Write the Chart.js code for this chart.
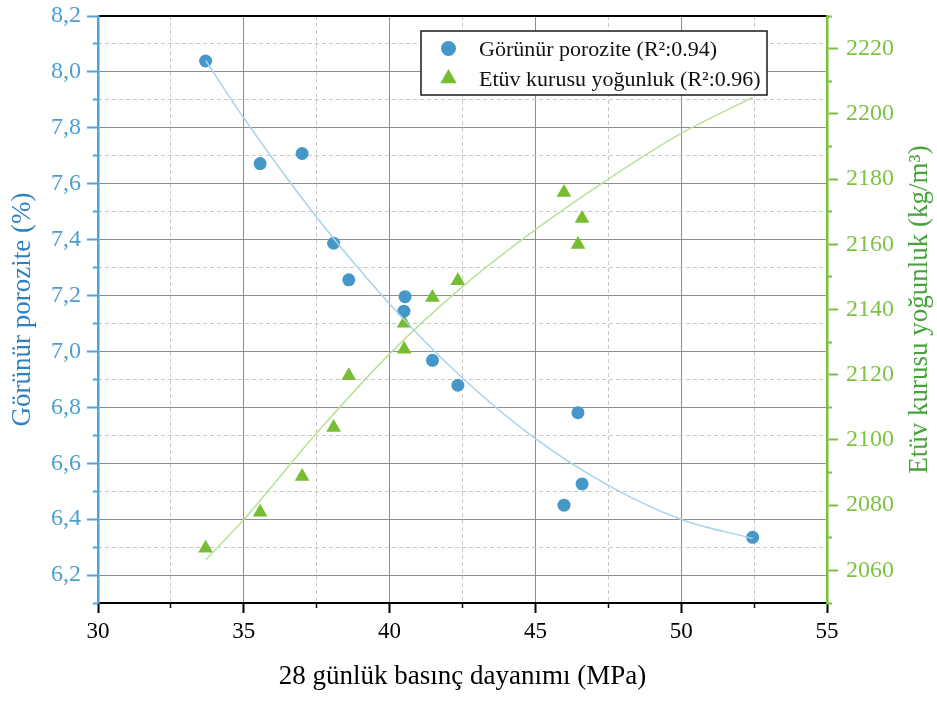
<!DOCTYPE html>
<html>
<head>
<meta charset="utf-8">
<script src="https://cdn.jsdelivr.net/npm/chart.js@4/dist/chart.umd.min.js"></script>
<style>
  html, body { margin: 0; padding: 0; background: #ffffff; }
  #wrap { width: 937px; height: 701px; position: relative; }
</style>
</head>
<body>
<div id="wrap"><canvas id="chart"></canvas></div>
<script>
// 28-day compressive strength (MPa) of each mix
const strength = [33.69, 35.56, 37.0, 38.08, 38.6, 40.53, 40.49, 41.47, 42.34, 46.46, 46.6, 45.98, 52.45];
// apparent porosity (%) of each mix
const porosity = [8.039, 7.672, 7.708, 7.387, 7.256, 7.196, 7.144, 6.968, 6.879, 6.781, 6.526, 6.45, 6.335];
// oven-dry density (kg/m3) with its strength values
const densityStrength = [33.69, 35.56, 37.0, 38.08, 38.6, 40.5, 40.5, 41.47, 42.34, 45.98, 46.6, 46.46];
const density = [2066.8, 2077.8, 2088.8, 2103.8, 2119.7, 2127.8, 2135.8, 2143.7, 2148.8, 2175.9, 2167.9, 2159.9];
// fitted trend curves
const fitStrength = [33.7, 35, 37.5, 40, 42.5, 45, 47.5, 50, 52.45];
const porosityFit = [8.04, 7.835, 7.48, 7.17, 6.905, 6.688, 6.521, 6.399, 6.331];
const densityFit = [2063.3, 2075.6, 2102.1, 2126.4, 2147.0, 2164.5, 2180.0, 2194.0, 2205.0];
// axis ticks
const xTicks = [30, 35, 40, 45, 50, 55];
const xMinorTicks = [32.5, 37.5, 42.5, 47.5, 52.5];
const porosityTicks = [6.2, 6.4, 6.6, 6.8, 7.0, 7.2, 7.4, 7.6, 7.8, 8.0, 8.2];
const porosityMinorTicks = [6.1, 6.3, 6.5, 6.7, 6.9, 7.1, 7.3, 7.5, 7.7, 7.9, 8.1];
const densityTicks = [2060, 2080, 2100, 2120, 2140, 2160, 2180, 2200, 2220];
const densityMinorTicks = [2050, 2070, 2090, 2110, 2130, 2150, 2170, 2190, 2210, 2230];
// labels
const porosityLabel = 'Görünür porozite (R²:0.94)';
const densityLabel = 'Etüv kurusu yoğunluk (R²:0.96)';
const xTitle = '28 günlük basınç dayanımı (MPa)';
const leftTitle = 'Görünür porozite (%)';
const rightTitle = 'Etüv kurusu yoğunluk (kg/m³)';

const serif = "'Liberation Serif', 'Times New Roman', serif";
const BLUE = '#4597c8', BLUE_FIT = '#a9d3ea', BLUE_AXIS = '#4ea2d5', BLUE_TEXT = '#4d9fd0', BLUE_TITLE = '#2e81bf';
const GREEN = '#76bd2f', GREEN_FIT = '#b9e197', GREEN_AXIS = '#7bc13c', GREEN_TEXT = '#7dc244', GREEN_TITLE = '#46a33b';
const GRID = '#8e8e8e', GRID_MINOR = '#c8c8c8', NONE = 'rgba(0,0,0,0)';

const pairs = (xs, ys) => xs.map((x, i) => ({ x: x, y: ys[i] }));
const fixTicks = list => scale => { scale.ticks = list.map(v => ({ value: v })); };
// fixed axis box sizes, without extra label overhang padding
const fixHeight = h => s => { s.height = h; s.paddingLeft = 0; s.paddingRight = 0; };
const fixWidth = w => s => { s.width = w; s.paddingTop = 0; s.paddingBottom = 0; };

// legend box drawn inside the plot area, above the data
const insideLegend = {
  id: 'insideLegend',
  afterDatasetsDraw(chart) {
    const ctx = chart.ctx;
    const bx = 421, by = 31, bw = 346, bh = 64;
    ctx.save();
    ctx.fillStyle = '#ffffff';
    ctx.fillRect(bx, by, bw, bh);
    ctx.lineWidth = 1.5;
    ctx.strokeStyle = '#1a1a1a';
    ctx.strokeRect(bx, by, bw, bh);
    const items = chart.data.datasets.filter(d => d.legendRow !== undefined);
    items.forEach(d => {
      const cy = by + 17.5 + d.legendRow * 30;
      const cx = bx + 27.5;
      ctx.fillStyle = d.backgroundColor;
      ctx.beginPath();
      if (d.pointStyle === 'triangle') {
        const r = 9.5;
        ctx.moveTo(cx, cy - r);
        ctx.lineTo(cx + r * Math.sqrt(3) / 2, cy + r / 2);
        ctx.lineTo(cx - r * Math.sqrt(3) / 2, cy + r / 2);
        ctx.closePath();
      } else {
        ctx.arc(cx, cy, 7.5, 0, Math.PI * 2);
      }
      ctx.fill();
      ctx.fillStyle = '#111111';
      ctx.font = '22px ' + serif;
      ctx.textAlign = 'left';
      ctx.textBaseline = 'alphabetic';
      ctx.fillText(d.label, bx + 58, cy + 7.5);
    });
    ctx.restore();
  }
};

// right axis title, read bottom-to-top like the left one
const rightAxisTitle = {
  id: 'rightAxisTitle',
  afterDraw(chart) {
    const ctx = chart.ctx;
    const a = chart.chartArea;
    ctx.save();
    ctx.translate(920, (a.top + a.bottom) / 2);
    ctx.rotate(-Math.PI / 2);
    ctx.fillStyle = GREEN_TITLE;
    ctx.font = '27px ' + serif;
    ctx.textAlign = 'center';
    ctx.textBaseline = 'middle';
    ctx.fillText(rightTitle, 0, 0);
    ctx.restore();
  }
};

new Chart(document.getElementById('chart'), {
  type: 'scatter',
  data: {
    datasets: [
      {
        label: 'fit-porozite', data: pairs(fitStrength, porosityFit), yAxisID: 'y',
        showLine: true, borderColor: BLUE_FIT, borderWidth: 1.5, pointRadius: 0,
        cubicInterpolationMode: 'monotone', order: 0
      },
      {
        label: 'fit-yogunluk', data: pairs(fitStrength, densityFit), yAxisID: 'y2',
        showLine: true, borderColor: GREEN_FIT, borderWidth: 1.5, pointRadius: 0,
        cubicInterpolationMode: 'monotone', order: 0
      },
      {
        label: porosityLabel, data: pairs(strength, porosity), yAxisID: 'y',
        pointStyle: 'circle', pointRadius: 6.5, backgroundColor: BLUE, borderWidth: 0,
        order: 1, legendRow: 0
      },
      {
        label: densityLabel, data: pairs(densityStrength, density), yAxisID: 'y2',
        pointStyle: 'triangle', pointRadius: 8.5, backgroundColor: GREEN, borderWidth: 0,
        order: 1, legendRow: 1
      }
    ]
  },
  options: {
    responsive: true,
    maintainAspectRatio: false,
    devicePixelRatio: 1,
    animation: false,
    layout: { padding: 0 },
    plugins: { legend: { display: false }, tooltip: { enabled: false } },
    events: [],
    scales: {
      x: {
        type: 'linear', position: 'bottom', min: 30, max: 55, weight: 0,
        afterBuildTicks: fixTicks(xTicks),
        afterFit: fixHeight(98),
        grid: {
          color: c => (c.tick && (c.tick.value === 30 || c.tick.value === 55)) ? NONE : GRID,
          lineWidth: 1, tickLength: 10, tickColor: '#000000', tickWidth: 2
        },
        border: { color: '#000000', width: 2 },
        ticks: { color: '#000000', font: { family: serif, size: 23 }, padding: 5, maxRotation: 0 },
        title: {
          display: true, text: xTitle, color: '#000000',
          font: { family: serif, size: 27 }, padding: { top: 0, bottom: 8 }
        }
      },
      xMinor: {
        type: 'linear', position: 'bottom', min: 30, max: 55, weight: -1,
        afterBuildTicks: fixTicks(xMinorTicks),
        afterFit: fixHeight(0),
        grid: { color: GRID_MINOR, lineWidth: 1, tickLength: 5, tickColor: '#000000', tickWidth: 1.5 },
        border: { display: false, dash: [4, 3] },
        ticks: { display: false }
      },
      xTop: {
        type: 'linear', position: 'top', min: 30, max: 55,
        afterFit: fixHeight(16),
        grid: { drawOnChartArea: false, drawTicks: false },
        border: { color: '#000000', width: 2 },
        ticks: { display: false }
      },
      y: {
        type: 'linear', position: 'left', min: 6.1, max: 8.2, weight: 0,
        afterBuildTicks: fixTicks(porosityTicks),
        afterFit: fixWidth(98),
        grid: {
          color: c => (c.tick && c.tick.value > 8.19) ? NONE : GRID,
          lineWidth: 1, tickLength: 11, tickColor: BLUE_AXIS, tickWidth: 2
        },
        border: { color: BLUE_AXIS, width: 2.5 },
        ticks: {
          color: BLUE_TEXT, font: { family: serif, size: 24 }, padding: 6,
          callback: v => v.toFixed(1).replace('.', ',')
        },
        title: {
          display: true, text: leftTitle, color: BLUE_TITLE,
          font: { family: serif, size: 27 }, padding: { top: 7, bottom: 0 }
        }
      },
      yMinor: {
        type: 'linear', position: 'left', min: 6.1, max: 8.2, weight: -1,
        afterBuildTicks: fixTicks(porosityMinorTicks),
        afterFit: fixWidth(0),
        grid: {
          color: c => (c.tick && c.tick.value < 6.15) ? NONE : GRID_MINOR,
          lineWidth: 1, tickLength: 5, tickColor: BLUE_AXIS, tickWidth: 2
        },
        border: { display: false, dash: [4, 3] },
        ticks: { display: false }
      },
      y2: {
        type: 'linear', position: 'right', min: 2050, max: 2230, weight: 0,
        afterBuildTicks: fixTicks(densityTicks),
        afterFit: fixWidth(110),
        grid: { drawOnChartArea: false, tickLength: 11, tickColor: GREEN_AXIS, tickWidth: 2 },
        border: { color: GREEN_AXIS, width: 2.5 },
        ticks: { color: GREEN_TEXT, font: { family: serif, size: 24 }, padding: 8, callback: v => String(v) },
        title: { display: false }
      },
      y2Minor: {
        type: 'linear', position: 'right', min: 2050, max: 2230, weight: -1,
        afterBuildTicks: fixTicks(densityMinorTicks),
        afterFit: fixWidth(0),
        grid: { drawOnChartArea: false, tickLength: 5, tickColor: GREEN_AXIS, tickWidth: 2 },
        border: { display: false },
        ticks: { display: false }
      }
    }
  },
  plugins: [insideLegend, rightAxisTitle]
});
</script>
</body>
</html>
